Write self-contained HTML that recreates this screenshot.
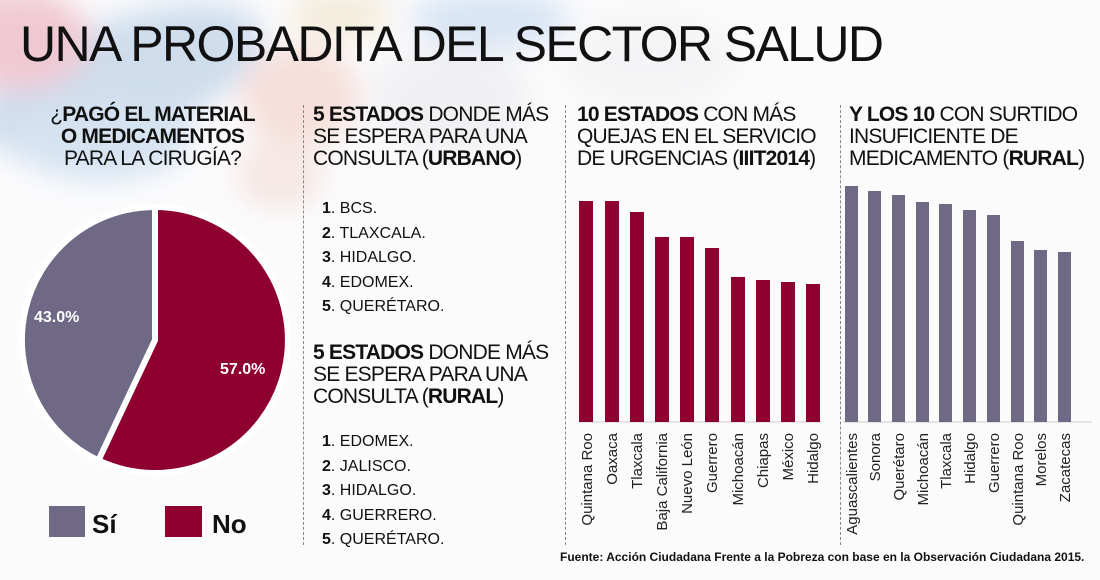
<!DOCTYPE html>
<html><head><meta charset="utf-8"><style>
body{margin:0;width:1100px;height:580px;overflow:hidden;background:#fbfbfc;font-family:"Liberation Sans",sans-serif;position:relative}
.bg{position:absolute;left:0;top:0;width:1100px;height:580px}
.t{position:absolute;color:#111;line-height:1}
h1{position:absolute;left:20px;top:15px;margin:0;font-weight:normal;font-size:50px;letter-spacing:-1.6px;color:#111}
.h{font-size:21px;line-height:22px;letter-spacing:-0.8px}
.h b{font-weight:bold}
.list{font-size:16px;line-height:24.5px}
.dash{position:absolute;top:105px;height:440px;border-left:1px dashed #888}
</style></head><body>
<svg class="bg" width="1100" height="580">
<defs><filter id="bl"><feGaussianBlur stdDeviation="14"/></filter></defs>
<g filter="url(#bl)" opacity="0.55">
<ellipse cx="120" cy="80" rx="150" ry="60" fill="#aac4e0" transform="rotate(-20 120 80)"/>
<ellipse cx="20" cy="40" rx="70" ry="50" fill="#e8a0b0"/>
<ellipse cx="100" cy="140" rx="90" ry="40" fill="#b8cfe8"/>
<ellipse cx="300" cy="95" rx="60" ry="50" fill="#f2c8c0"/>
<ellipse cx="280" cy="175" rx="45" ry="35" fill="#f0d8d2"/>
<ellipse cx="450" cy="100" rx="80" ry="55" fill="#e8e8ec"/>
<ellipse cx="490" cy="20" rx="80" ry="30" fill="#bdd3ee"/>
<ellipse cx="340" cy="15" rx="50" ry="25" fill="#eee0c0"/>
<ellipse cx="650" cy="60" rx="90" ry="50" fill="#f0f0f2"/>
</g>
<line x1="579" y1="422" x2="822" y2="422" stroke="#ccc" stroke-width="1"/>
<line x1="843" y1="422" x2="1092" y2="422" stroke="#ccc" stroke-width="1"/>
<g fill="#8e0030">
<rect x="579" y="201" width="14" height="221"/><rect x="605" y="201" width="14" height="221"/>
<rect x="630" y="212" width="14" height="210"/><rect x="655" y="237" width="14" height="185"/>
<rect x="680" y="237" width="14" height="185"/><rect x="705" y="248" width="14" height="174"/>
<rect x="731" y="277" width="14" height="145"/><rect x="756" y="280" width="14" height="142"/>
<rect x="781" y="282" width="14" height="140"/><rect x="806" y="284" width="14" height="138"/>
</g>
<g fill="#6f6986">
<rect x="845" y="186" width="13" height="236"/><rect x="868" y="191" width="13" height="231"/>
<rect x="892" y="195" width="13" height="227"/><rect x="916" y="202" width="13" height="220"/>
<rect x="939" y="204" width="13" height="218"/><rect x="963" y="210" width="13" height="212"/>
<rect x="987" y="215" width="13" height="207"/><rect x="1011" y="241" width="13" height="181"/>
<rect x="1034" y="250" width="13" height="172"/><rect x="1058" y="252" width="13" height="170"/>
</g>
<g font-family="Liberation Sans, sans-serif" font-size="15" fill="#222" text-anchor="end">
<text transform="translate(592,433) rotate(-90)">Quintana Roo</text>
<text transform="translate(617,433) rotate(-90)">Oaxaca</text>
<text transform="translate(642,433) rotate(-90)">Tlaxcala</text>
<text transform="translate(667,433) rotate(-90)">Baja California</text>
<text transform="translate(692,433) rotate(-90)">Nuevo León</text>
<text transform="translate(717,433) rotate(-90)">Guerrero</text>
<text transform="translate(743,433) rotate(-90)">Michoacán</text>
<text transform="translate(768,433) rotate(-90)">Chiapas</text>
<text transform="translate(793,433) rotate(-90)">México</text>
<text transform="translate(818,433) rotate(-90)">Hidalgo</text>
<text transform="translate(857,433) rotate(-90)">Aguascalientes</text>
<text transform="translate(880,433) rotate(-90)">Sonora</text>
<text transform="translate(904,433) rotate(-90)">Querétaro</text>
<text transform="translate(928,433) rotate(-90)">Michoacán</text>
<text transform="translate(951,433) rotate(-90)">Tlaxcala</text>
<text transform="translate(975,433) rotate(-90)">Hidalgo</text>
<text transform="translate(999,433) rotate(-90)">Guerrero</text>
<text transform="translate(1023,433) rotate(-90)">Quintana Roo</text>
<text transform="translate(1046,433) rotate(-90)">Morelos</text>
<text transform="translate(1070,433) rotate(-90)">Zacatecas</text>
</g>
<path d="M155,340 L155,207 A133,133 0 1,1 98.4,460.4 Z" fill="#8e0030" stroke="#fff" stroke-width="6" stroke-linejoin="miter"/>
<path d="M155,340 L98.4,460.4 A133,133 0 0,1 155,207 Z" fill="#6f6986" stroke="#fff" stroke-width="6"/>
<text x="34" y="322" font-size="16" font-weight="bold" fill="#fff" font-family="Liberation Sans, sans-serif">43.0%</text>
<text x="220" y="374" font-size="16" font-weight="bold" fill="#fff" font-family="Liberation Sans, sans-serif">57.0%</text>
<rect x="49" y="506" width="36" height="31" fill="#6f6986"/>
<rect x="165" y="506" width="37" height="31" fill="#8e0030"/>
<text x="92" y="533" font-size="26" font-weight="bold" fill="#111" font-family="Liberation Sans, sans-serif">Sí</text>
<text x="212" y="533" font-size="26" font-weight="bold" fill="#111" font-family="Liberation Sans, sans-serif">No</text>
</svg>
<h1>UNA PROBADITA DEL SECTOR SALUD</h1>
<div class="dash" style="left:303px"></div>
<div class="dash" style="left:565px"></div>
<div class="dash" style="left:840px"></div>
<div class="t h" style="left:30px;top:104px;width:245px;text-align:center">¿<b>PAGÓ EL MATERIAL<br>O MEDICAMENTOS</b><br>PARA LA CIRUGÍA?</div>
<div class="t h" style="left:313px;top:104px;width:260px"><b>5 ESTADOS</b> DONDE MÁS<br>SE ESPERA PARA UNA<br>CONSULTA (<b>URBANO</b>)</div>
<div class="t list" style="left:322px;top:197px"><b>1</b>. BCS.<br><b>2</b>. TLAXCALA.<br><b>3</b>. HIDALGO.<br><b>4</b>. EDOMEX.<br><b>5</b>. QUERÉTARO.</div>
<div class="t h" style="left:313px;top:342px;width:260px"><b>5 ESTADOS</b> DONDE MÁS<br>SE ESPERA PARA UNA<br>CONSULTA (<b>RURAL</b>)</div>
<div class="t list" style="left:322px;top:430px"><b>1</b>. EDOMEX.<br><b>2</b>. JALISCO.<br><b>3</b>. HIDALGO.<br><b>4</b>. GUERRERO.<br><b>5</b>. QUERÉTARO.</div>
<div class="t h" style="left:577px;top:104px;width:260px"><b>10 ESTADOS</b> CON MÁS<br>QUEJAS EN EL SERVICIO<br>DE URGENCIAS (<b>IIIT2014</b>)</div>
<div class="t h" style="left:849px;top:104px;width:260px"><b>Y LOS 10</b> CON SURTIDO<br>INSUFICIENTE DE<br>MEDICAMENTO (<b>RURAL</b>)</div>
<div class="t" style="left:560px;top:551px;font-size:12px;font-weight:bold">Fuente: Acción Ciudadana Frente a la Pobreza con base en la Observación Ciudadana 2015.</div>
</body></html>
